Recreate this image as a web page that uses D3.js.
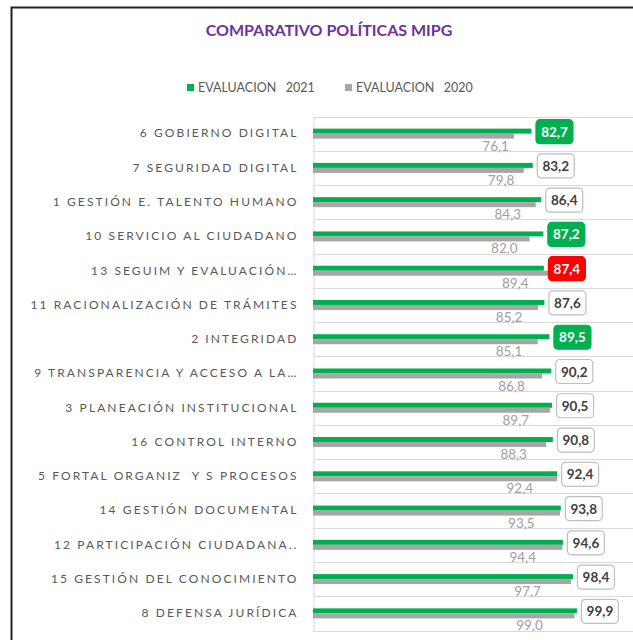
<!DOCTYPE html>
<html lang="es">
    <head>
        <meta charset="utf-8">
        <title>Comparativo Políticas MIPG</title>
        <script type="text/javascript" src="https://cdn.jsdelivr.net/npm/d3@7"></script>
        <style type="text/css">
            body { margin: 0; background: #fff; }
            svg { display: block; }
            text { font-family: Lato, "Open Sans", sans-serif; }
        </style>
    </head>

    <body>
        <script type="text/javascript">
            // Políticas, de menor a mayor resultado 2021
            var categories = [
                "6 GOBIERNO DIGITAL",
                "7 SEGURIDAD DIGITAL",
                "1 GESTIÓN E. TALENTO HUMANO",
                "10 SERVICIO AL CIUDADANO",
                "13 SEGUIM Y EVALUACIÓN…",
                "11 RACIONALIZACIÓN DE TRÁMITES",
                "2 INTEGRIDAD",
                "9 TRANSPARENCIA Y ACCESO A LA…",
                "3 PLANEACIÓN INSTITUCIONAL",
                "16 CONTROL INTERNO",
                "5 FORTAL ORGANIZ  Y S PROCESOS",
                "14 GESTIÓN DOCUMENTAL",
                "12 PARTICIPACIÓN CIUDADANA..",
                "15 GESTIÓN DEL CONOCIMIENTO",
                "8 DEFENSA JURÍDICA"
            ];
            var eval2021 = [82.7, 83.2, 86.4, 87.2, 87.4, 87.6, 89.5, 90.2, 90.5, 90.8, 92.4, 93.8, 94.6, 98.4, 99.9];
            var eval2020 = [76.1, 79.8, 84.3, 82.0, 89.4, 85.2, 85.1, 86.8, 89.7, 88.3, 92.4, 93.5, 94.4, 97.7, 99.0];
            var seriesNames = ["EVALUACION   2021", "EVALUACION   2020"];

            var w = 633;
            var h = 640;
            var green = "#00b050";
            var gray = "#a6a6a6";
            var red = "#ff0000";
            var gridColor = "#d9d9d9";

            var rows = categories.map(function(c, i) {
                return { name: c, v21: eval2021[i], v20: eval2020[i] };
            });

            var svg = d3.select("body")
                        .append("svg")
                        .attr("width", w)
                        .attr("height", h);

            // outer frame (only top and left edges are visible)
            svg.append("path")
                .attr("d", "M11.5,640 V7.5 H633")
                .attr("fill", "none")
                .attr("stroke", "#222")
                .attr("stroke-width", 2);

            // title
            svg.append("text")
                .attr("x", 329)
                .attr("y", 36)
                .attr("text-anchor", "middle")
                .attr("font-size", "16px")
                .attr("font-weight", "bold")
                .attr("fill", "#7030a0")
                .text("COMPARATIVO POLÍTICAS MIPG");

            // scales
            var xScale = d3.scaleLinear()
                            .domain([0, 120])
                            .range([313, 630]);
            var yScale = d3.scaleBand()
                            .domain(categories)
                            .range([116.5, 630.5])
                            .padding(0);
            // 2020 labels were placed loosely under the bars
            var label20Scale = d3.scaleLinear()
                            .domain([75, 100])
                            .range([494, 531]);
            var barH = 5;
            var fmt = function(v) { return d3.format(".1f")(v).replace(".", ","); };

            // gridlines at band edges
            var edges = categories.map(function(c) { return yScale(c); }).concat([yScale.range()[1]]);
            svg.selectAll("line.grid")
                .data(edges)
                .enter()
                .append("line")
                .attr("class", "grid")
                .attr("x1", xScale(0))
                .attr("x2", w)
                .attr("y1", function(d) { return Math.round(d) + 0.5; })
                .attr("y2", function(d) { return Math.round(d) + 0.5; })
                .attr("stroke", gridColor)
                .attr("stroke-width", 1);

            // category axis
            var yAxis = d3.axisLeft(yScale).tickSize(0).tickPadding(15);
            var gAxis = svg.append("g")
                .attr("transform", "translate(" + (xScale(0) + 0.5) + ",0)")
                .call(yAxis);
            gAxis.select(".domain").attr("stroke", gridColor);
            gAxis.selectAll("text")
                .attr("font-family", "Lato, sans-serif")
                .attr("font-size", "12px")
                .attr("fill", "#595959")
                .attr("letter-spacing", "2.1px")
                .style("white-space", "pre");

            var cy = function(d) { return yScale(d.name) + yScale.bandwidth() / 2; };

            // 2021 bars (upper)
            svg.selectAll("rect.b21")
                .data(rows)
                .enter()
                .append("rect")
                .attr("class", "b21")
                .attr("x", xScale(0))
                .attr("y", function(d) { return cy(d) - barH; })
                .attr("width", function(d) { return xScale(d.v21) - xScale(0); })
                .attr("height", barH)
                .attr("fill", green);

            // 2020 bars (lower)
            svg.selectAll("rect.b20")
                .data(rows)
                .enter()
                .append("rect")
                .attr("class", "b20")
                .attr("x", xScale(0))
                .attr("y", function(d) { return cy(d); })
                .attr("width", function(d) { return xScale(d.v20) - xScale(0); })
                .attr("height", barH)
                .attr("fill", gray);

            // 2020 labels
            svg.selectAll("text.l20")
                .data(rows)
                .enter()
                .append("text")
                .attr("class", "l20")
                .attr("x", function(d) { return label20Scale(d.v20); })
                .attr("y", function(d) { return cy(d) + 17; })
                .attr("text-anchor", "middle")
                .attr("font-size", "13.5px")
                .attr("fill", "#a0a0a0")
                .text(function(d) { return fmt(d.v20); });

            // 2021 callouts: red if it dropped, green if it rose 4 points or more
            var boxFill = function(d) {
                var diff = d.v21 - d.v20;
                if (diff < 0) return red;
                if (diff >= 4) return green;
                return "#fff";
            };
            var boxW = 37, boxH = 24;
            var callouts = svg.selectAll("g.l21")
                .data(rows)
                .enter()
                .append("g")
                .attr("class", "l21")
                .attr("transform", function(d) {
                    return "translate(" + (xScale(d.v21) + 4) + "," + (cy(d) - barH / 2 - boxH / 2) + ")";
                });
            callouts.append("rect")
                .attr("x", 0.5)
                .attr("y", 0.5)
                .attr("width", boxW)
                .attr("height", boxH)
                .attr("rx", 4)
                .attr("fill", boxFill)
                .attr("stroke", function(d) { return boxFill(d) === "#fff" ? "#bfbfbf" : boxFill(d); })
                .attr("stroke-width", 1.2);
            callouts.append("text")
                .attr("x", boxW / 2 + 0.5)
                .attr("y", boxH / 2 + 5.5)
                .attr("text-anchor", "middle")
                .attr("font-size", "13.5px")
                .attr("font-weight", "bold")
                .attr("fill", function(d) { return boxFill(d) === "#fff" ? "#404040" : "#fff"; })
                .text(function(d) { return fmt(d.v21); });

            // legend
            var legend = svg.selectAll("g.legend")
                .data(seriesNames)
                .enter()
                .append("g")
                .attr("class", "legend")
                .attr("transform", function(d, i) { return "translate(" + (187 + i * 158) + ",88)"; });
            legend.append("rect")
                .attr("x", 0)
                .attr("y", -4)
                .attr("width", 7)
                .attr("height", 7)
                .attr("fill", function(d, i) { return i === 0 ? green : gray; });
            legend.append("text")
                .attr("x", 11)
                .attr("y", 4)
                .attr("font-size", "12.5px")
                .attr("fill", "#595959")
                .style("white-space", "pre")
                .text(function(d) { return d; });
        </script>
    </body>
</html>
